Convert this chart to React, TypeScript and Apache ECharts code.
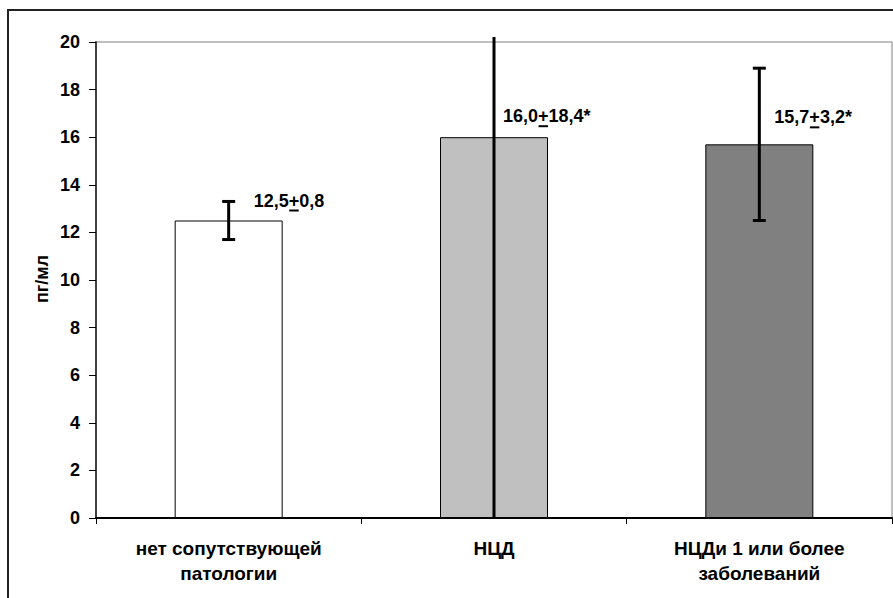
import React, { useEffect, useRef } from "react";
import * as echarts from "echarts";

const CATEGORIES = ["нет сопутствующей\nпатологии", "НЦД", "НЦДи 1 или более\nзаболеваний"];
const MEANS = [12.5, 16.0, 15.7];
const ERRORS = [0.8, 18.4, 3.2];
const MEAN_TEXT = ["12,5", "16,0", "15,7"];
const ERROR_TEXT = ["0,8", "18,4*", "3,2*"];
const BAR_COLORS = ["#FFFFFF", "#C0C0C0", "#808080"];
const Y_MIN = 0;
const Y_MAX = 20;
const Y_STEP = 2;
const Y_NAME = "пг/мл";

// label placement (pixels relative to category centre / bar top)
const LABEL_DX = [25, 9, 15];
const LABEL_DY = [-20, -21, -27];

const FONT = "'Liberation Sans', Arial, Helvetica, sans-serif";
const FONT_SIZE = 18;
const X_FONT_SIZE = 19;

let measureCtx: CanvasRenderingContext2D | null = null;
function textWidth(s: string): number {
  if (!measureCtx) {
    const c = document.createElement("canvas");
    measureCtx = c.getContext("2d");
  }
  if (!measureCtx) return s.length * 10;
  measureCtx.font = `bold ${FONT_SIZE}px ${FONT}`;
  return measureCtx.measureText(s).width;
}

export default function App() {
  const ref = useRef<HTMLDivElement>(null);
  useEffect(() => {
    if (!ref.current) return;
    const chart = echarts.init(ref.current, undefined, { renderer: "svg" });
    const option: any = {
      animation: false,
      backgroundColor: "#FFFFFF",
      textStyle: { fontFamily: FONT },
      grid: {
        left: 96,
        top: 42,
        right: 1,
        bottom: 80,
        show: true,
        borderColor: "#808080",
        borderWidth: 1,
        backgroundColor: "transparent",
      },
      graphic: [
        {
          type: "rect",
          shape: { x: 8, y: 10, width: 900, height: 600 },
          style: { fill: "none", stroke: "#222", lineWidth: 2 },
          silent: true,
          z: 100,
        },
        {
          type: "text",
          x: 42,
          y: 279,
          rotation: Math.PI / 2,
          style: {
            text: Y_NAME,
            font: `bold ${FONT_SIZE}px ${FONT}`,
            fill: "#000",
            align: "center",
            verticalAlign: "middle",
          },
        },
      ],
      xAxis: {
        type: "category",
        data: CATEGORIES,
        boundaryGap: true,
        axisLine: { show: true, lineStyle: { color: "#000", width: 2 } },
        axisTick: { show: true, length: 6, inside: false, alignWithLabel: false, lineStyle: { color: "#000", width: 1 } },
        axisLabel: {
          color: "#000",
          fontWeight: "bold",
          fontSize: X_FONT_SIZE,
          fontFamily: FONT,
          lineHeight: 25,
          margin: 18,
          interval: 0,
        },
        splitLine: { show: false },
      },
      yAxis: {
        type: "value",
        min: Y_MIN,
        max: Y_MAX,
        interval: Y_STEP,
        axisLine: { show: true, lineStyle: { color: "#404040", width: 2 } },
        axisTick: { show: true, length: 7, inside: false, lineStyle: { color: "#000", width: 1 } },
        axisLabel: {
          color: "#000",
          fontWeight: "bold",
          fontSize: FONT_SIZE,
          fontFamily: FONT,
          margin: 16,
        },
        splitLine: { show: false },
      },
      series: [
        {
          type: "bar",
          barWidth: 108,
          data: MEANS.map((v, i) => ({
            value: v,
            itemStyle: { color: BAR_COLORS[i], borderColor: "#000", borderWidth: 1 },
          })),
          z: 2,
        },
        {
          type: "custom",
          clip: false,
          z: 5,
          data: MEANS.map((m, i) => [i, m, ERRORS[i]]),
          renderItem: (params: any, api: any) => {
            const idx = params.dataIndex;
            const i = api.value(0);
            const mean = api.value(1);
            const err = api.value(2);
            const [x, yMean] = api.coord([i, mean]);
            const topRaw = api.coord([i, mean + err])[1];
            const botRaw = api.coord([i, mean - err])[1];
            const cs = params.coordSys;
            const gridTop = cs.y;
            const gridBottom = cs.y + cs.height;
            const yTop = Math.max(topRaw, gridTop - 5);
            const yBot = Math.min(botRaw, gridBottom);
            const children: any[] = [];
            const ls = { stroke: "#000", lineWidth: 3 };
            children.push({ type: "line", shape: { x1: x, y1: yTop, x2: x, y2: yBot }, style: ls });
            if (topRaw >= gridTop - 5) {
              children.push({ type: "line", shape: { x1: x - 6.5, y1: yTop, x2: x + 6.5, y2: yTop }, style: ls });
            }
            if (botRaw <= gridBottom) {
              children.push({ type: "line", shape: { x1: x - 6.5, y1: yBot, x2: x + 6.5, y2: yBot }, style: ls });
            }
            const tx = x + LABEL_DX[idx];
            const ty = yMean + LABEL_DY[idx];
            const txt = MEAN_TEXT[idx] + "+" + ERROR_TEXT[idx];
            children.push({
              type: "text",
              x: tx,
              y: ty,
              style: {
                text: txt,
                font: `bold ${FONT_SIZE}px ${FONT}`,
                fill: "#000",
                align: "left",
                verticalAlign: "middle",
              },
            });
            const u0 = tx + textWidth(MEAN_TEXT[idx]);
            const u1 = u0 + textWidth("+");
            children.push({
              type: "line",
              shape: { x1: u0 + 0.5, y1: ty + 10, x2: u1 - 0.5, y2: ty + 10 },
              style: { stroke: "#000", lineWidth: 2 },
            });
            return { type: "group", children };
          },
        },
      ],
    };
    chart.setOption(option);
    return () => chart.dispose();
  }, []);
  return (
    <div
      ref={ref}
      style={{ position: "absolute", left: 0, top: 0, width: 893, height: 598 }}
    />
  );
}
